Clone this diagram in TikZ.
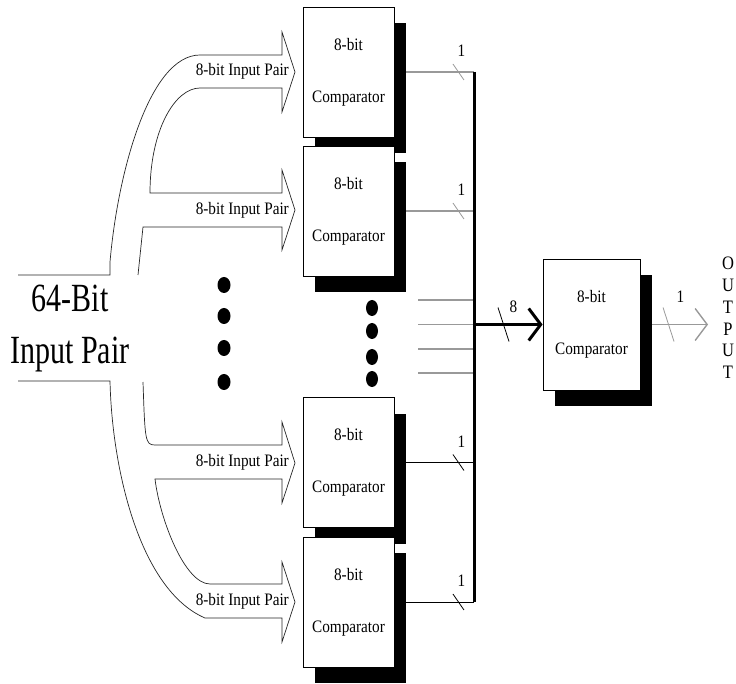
\documentclass[tikz,border=0pt]{standalone}
\usepackage{fontspec}
\setmainfont{Liberation Serif}
\newfontfamily\lblfont[FakeStretch=0.87]{Liberation Serif}
\newfontfamily\titlefont[FakeStretch=0.75]{Liberation Serif}
\usetikzlibrary{arrows.meta,shadows}

\begin{document}
\begin{tikzpicture}[x=1pt,y=-1pt,
  cmpbox/.style={draw,fill=white,line width=0.8pt,minimum width=91pt,minimum height=130pt,inner sep=0pt,align=center,
    font=\lblfont\fontsize{17.5}{20}\selectfont,general shadow={fill=black,shadow xshift=12pt,shadow yshift=-16pt}},
  fan/.style={draw=black!85,line width=0.7pt},
  lbl/.style={font=\lblfont\fontsize{17.5}{20}\selectfont,inner sep=0pt},
  wire/.style={draw=black!40,line width=1.4pt},
  bwire/.style={draw=black,line width=0.9pt},
  bus/.style={draw=black,line width=3pt}]
\useasboundingbox (0,0) rectangle (736,684);

% block arrows fanning out of the 64-bit input
\draw[fan] (18,275) -- (110,275) -- (110,262) .. controls (118,170) and (150,55) .. (200,55) -- (282,55) -- (282,32) -- (295,72) -- (282,112) -- (282,88) -- (200,88)
  .. controls (175,88) and (150,130) .. (150,193) -- (282,193) -- (282,170) -- (295,210) -- (282,250) -- (282,227) -- (143,227) -- (138,275);
\draw[fan] (143,382) .. controls (145,440) and (145,445) .. (155,445) -- (282,445) -- (282,422) -- (295,463) -- (282,503) -- (282,479) -- (155,479)
  .. controls (160,520) and (185,584) .. (210,584) -- (282,584) -- (282,562) -- (295,602) -- (282,642) -- (282,618) -- (205,618)
  .. controls (140,590) and (112,470) .. (110,381) -- (18,381);

\node[font=\titlefont\fontsize{40}{52}\selectfont,align=center,inner sep=0pt] (inpair) at (70,329) {64-Bit\\Input Pair};
\node[lbl,anchor=east] (in1) at (289,71.5) {8-bit Input Pair};
\node[lbl,anchor=east] (in2) at (289,210) {8-bit Input Pair};
\node[lbl,anchor=east] (in3) at (289,462) {8-bit Input Pair};
\node[lbl,anchor=east] (in4) at (289,601) {8-bit Input Pair};

\foreach \y in {285,316,348,382} \fill (224,\y) ellipse [x radius=6.5,y radius=8];
\foreach \y in {308,331,357,379} \fill (372,\y) ellipse [x radius=6,y radius=8];

% comparators
\node[cmpbox] (cmp1) at (348.5,72) {8-bit\\[32pt]Comparator};
\node[cmpbox] (cmp2) at (348.5,211) {8-bit\\[32pt]Comparator};
\node[cmpbox] (cmp3) at (348.5,462.5) {8-bit\\[32pt]Comparator};
\node[cmpbox] (cmp4) at (348.5,602) {8-bit\\[32pt]Comparator};
\node[cmpbox,minimum width=97pt,minimum height=131pt] (cmpout) at (591.5,324.5) {8-bit\\[32pt]Comparator};

\coordinate (bustop) at (474,72);
\coordinate (busbot) at (474,602);
\coordinate (busmid) at (474,324.5);
\coordinate (outtip) at (708,324.5);

\foreach \i/\st in {1/wire,2/wire,3/bwire,4/bwire}{
  \draw[\st] ([xshift=12pt]cmp\i.east) -- (cmp\i.east -| bustop) coordinate[pos=0.77] (sl\i);
  \draw[\st,line width=0.8pt] ([shift={(-5.5,-8)}]sl\i) -- ([shift={(5.5,8)}]sl\i);
  \node[lbl] (one\i) at ([shift={(3,-21)}]sl\i) {1};
}
\foreach \y in {300,324.5,349,373} \draw[wire] (418,\y) -- (474,\y);
\draw[bus] (bustop) -- (busbot);

% 8 lines into the last comparator
\draw[bus,-{Straight Barb[length=12pt,width=32pt]}] (busmid) -- (cmpout.west) coordinate[pos=0.43] (sl8);
\draw[line width=0.8pt] ([shift={(-5.5,-17)}]sl8) -- ([shift={(5.5,17)}]sl8);
\node[lbl] (eight) at ([shift={(10,-18)}]sl8) {8};

\draw[wire,-{Straight Barb[length=12pt,width=32pt]}] ([xshift=12pt]cmpout.east) -- (outtip) coordinate[pos=0.29] (slo);
\draw[wire,line width=0.8pt] ([shift={(-5.5,-17)}]slo) -- ([shift={(5.5,17)}]slo);
\node[lbl] (oneout) at ([shift={(12,-28)}]slo) {1};

\node[font=\lblfont\fontsize{19}{21.8}\selectfont,align=center,inner sep=0pt] (outtxt) at (728,318) {O\\U\\T\\P\\U\\T};
\end{tikzpicture}
\end{document}
